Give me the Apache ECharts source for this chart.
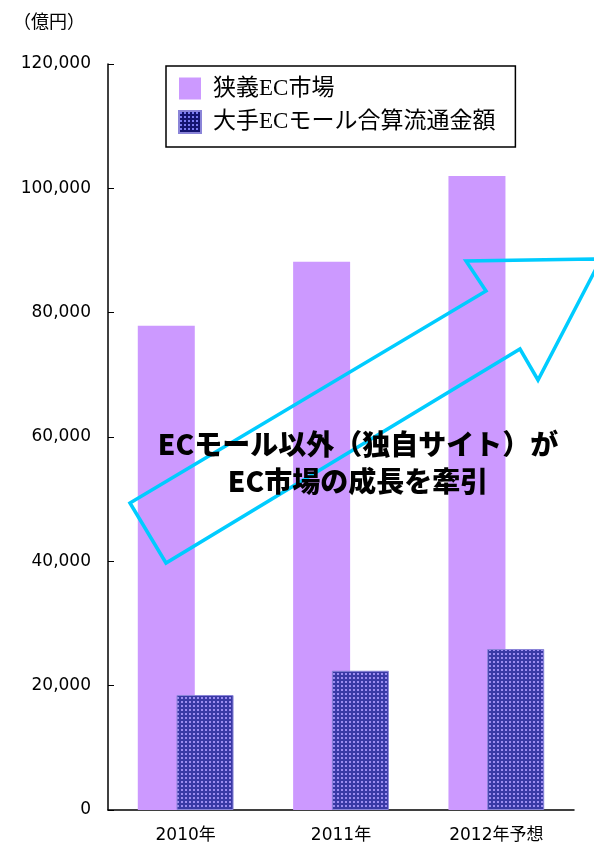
<!DOCTYPE html>
<html>
<head>
<meta charset="utf-8">
<script src="https://cdn.jsdelivr.net/npm/echarts@6/dist/echarts.min.js"></script>
<style>
  html, body { margin: 0; padding: 0; background: #fff; }
  #chart { width: 594px; height: 851px; }
</style>
</head>
<body>
<div id="chart"></div>
<script>
// data
var years = ['2010年', '2011年', '2012年予想'];
var ecMarket = [77900, 88200, 102000];     // 狭義EC市場
var mallTotal = [18500, 22400, 25900];     // 大手ECモール合算流通金額
var yTicks = [0, 20000, 40000, 60000, 80000, 100000, 120000];
var seriesNames = ['狭義EC市場', '大手ECモール合算流通金額'];

// dotted pattern for the mall bars
function makePattern(bg, dot) {
    var c = document.createElement('canvas');
    c.width = 4;
    c.height = 4;
    var ctx = c.getContext('2d');
    ctx.fillStyle = bg;
    ctx.fillRect(0, 0, 4, 4);
    ctx.fillStyle = dot;
    ctx.fillRect(1, 1, 2, 2);
    return { image: c, repeat: 'repeat' };
}

var numFont = "'DejaVu Sans', 'Noto Sans CJK JP', sans-serif";
var jpFont = "'Liberation Serif', 'Noto Sans CJK JP', serif";

var myChart = echarts.init(document.getElementById('chart'));
var option = {
    animation: false,
    backgroundColor: '#fff',
    title: {
        text: '（億円）',
        left: 8,
        top: 7,
        textStyle: { fontSize: 18, fontWeight: 'normal', color: '#000', fontFamily: "'Noto Sans CJK JP', sans-serif" }
    },
    legend: {
        orient: 'vertical',
        left: 166,
        top: 66,
        borderColor: '#000',
        borderWidth: 1.5,
        padding: [11, 20, 13, 12],
        itemWidth: 22,
        itemHeight: 22,
        itemGap: 10,
        icon: 'rect',
        textStyle: { fontSize: 23, color: '#000', fontFamily: jpFont, padding: [0, 0, 0, 7] },
        data: [
            { name: seriesNames[0] },
            { name: seriesNames[1], itemStyle: { color: makePattern('#141470', '#7a7af0') } }
        ]
    },
    grid: { left: 108, right: 20, top: 64, bottom: 41 },
    xAxis: {
        type: 'category',
        data: years,
        axisLine: { lineStyle: { color: '#000', width: 1.5 } },
        axisTick: { inside: true, length: 6, lineStyle: { color: '#000' } },
        axisLabel: { fontSize: 17, color: '#000', margin: 17, fontFamily: numFont }
    },
    yAxis: {
        type: 'value',
        min: yTicks[0],
        max: yTicks[yTicks.length - 1],
        interval: yTicks[1] - yTicks[0],
        axisLine: { show: true, lineStyle: { color: '#000', width: 1.5 } },
        axisTick: { show: true, inside: true, length: 6, lineStyle: { color: '#000' } },
        splitLine: { show: false },
        axisLabel: {
            fontSize: 17, color: '#000', margin: 17, fontFamily: numFont,
            formatter: function (v) { return v.toLocaleString('en-US'); }
        }
    },
    series: [
        {
            name: seriesNames[0],
            type: 'bar',
            data: ecMarket,
            barWidth: 57,
            barGap: '-32%',
            itemStyle: { color: '#CC99FF' }
        },
        {
            name: seriesNames[1],
            type: 'bar',
            data: mallTotal,
            barWidth: 57,
            itemStyle: { color: makePattern('#3a3aa6', '#9c8cf0'), borderColor: '#8a84d8', borderWidth: 1 }
        }
    ],
    graphic: [
        {
            type: 'polygon',
            z: 100,
            shape: { points: [[130, 503], [486, 291], [466, 261], [601, 259], [538, 380], [520, 349], [166, 563]] },
            style: { fill: 'none', stroke: '#00CCFF', lineWidth: 3.5 }
        },
        {
            type: 'text',
            z: 101,
            x: 358,
            y: 463,
            style: {
                text: 'ECモール以外（独自サイト）が\nEC市場の成長を牽引',
                fill: '#000',
                font: "900 28px 'Noto Sans CJK JP', sans-serif",
                lineHeight: 37,
                align: 'center',
                verticalAlign: 'middle'
            }
        }
    ]
};
myChart.setOption(option);
</script>
</body>
</html>
